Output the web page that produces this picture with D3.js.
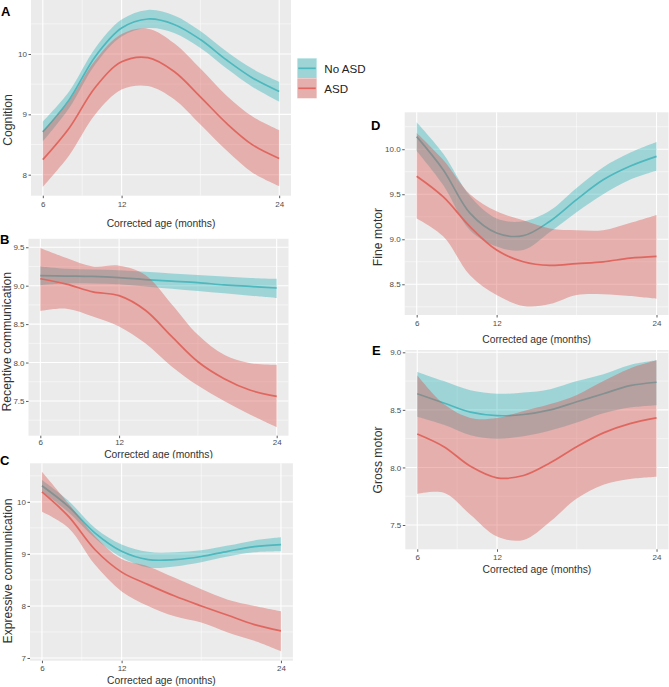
<!DOCTYPE html>
<html>
<head>
<meta charset="utf-8">
<script src="https://cdn.jsdelivr.net/npm/d3@7"></script>
<style>
  body { margin: 0; background: #fff; }
  svg { display: block; font-family: "Liberation Sans", Arial, sans-serif; }
</style>
</head>
<body>
<svg id="chart" width="669" height="687"></svg>
<script>
// ── Data ───────────────────────────────────────────────────────────
const ages   = [6, 8, 10, 12, 14, 16, 18, 20, 22, 24];
const groups = ["No ASD", "ASD"];
const xTicks = [6, 12, 24];
const xMinor = [9, 18];
const xTitle = "Corrected age (months)";

// A  Cognition
const cogNo     = [8.71, 9.24, 9.96, 10.43, 10.58, 10.49, 10.24, 9.90, 9.60, 9.38];
const cogNoLo   = [8.55, 9.10, 9.83, 10.29, 10.43, 10.35, 10.10, 9.76, 9.45, 9.21];
const cogNoHi   = [8.88, 9.38, 10.10, 10.57, 10.73, 10.64, 10.38, 10.04, 9.75, 9.54];
const cogAsd    = [8.25, 8.77, 9.45, 9.87, 9.94, 9.71, 9.29, 8.85, 8.49, 8.27];
const cogAsdLo  = [7.80, 8.32, 9.00, 9.41, 9.47, 9.25, 8.83, 8.40, 8.03, 7.81];
const cogAsdHi  = [8.72, 9.22, 9.90, 10.33, 10.42, 10.18, 9.76, 9.31, 8.96, 8.74];

// B  Receptive communication
const recNo     = [9.13, 9.125, 9.12, 9.105, 9.08, 9.06, 9.04, 9.01, 8.99, 8.97];
const recNoLo   = [9.01, 9.03, 9.03, 9.02, 8.99, 8.96, 8.93, 8.90, 8.87, 8.84];
const recNoHi   = [9.25, 9.22, 9.21, 9.20, 9.18, 9.16, 9.14, 9.12, 9.10, 9.09];
const recAsd    = [9.09, 9.02, 8.92, 8.87, 8.68, 8.34, 8.01, 7.79, 7.64, 7.56];
const recAsdLo  = [8.67, 8.70, 8.60, 8.47, 8.25, 7.95, 7.70, 7.50, 7.32, 7.16];
const recAsdHi  = [9.49, 9.36, 9.25, 9.26, 9.14, 8.76, 8.36, 8.10, 7.99, 7.97];

// C  Expressive communication
const expNo     = [10.31, 9.91, 9.40, 9.05, 8.89, 8.89, 8.95, 9.05, 9.14, 9.18];
const expNoLo   = [10.20, 9.80, 9.30, 8.93, 8.74, 8.76, 8.84, 8.95, 9.03, 9.05];
const expNoHi   = [10.42, 10.02, 9.50, 9.18, 9.04, 9.03, 9.07, 9.16, 9.26, 9.32];
const expAsd    = [10.19, 9.72, 9.08, 8.65, 8.41, 8.19, 8.00, 7.82, 7.64, 7.52];
const expAsdLo  = [9.81, 9.50, 8.79, 8.28, 8.00, 7.80, 7.68, 7.49, 7.33, 7.13];
const expAsdHi  = [10.58, 9.97, 9.34, 8.90, 8.76, 8.54, 8.32, 8.12, 8.00, 7.90];

// D  Fine motor
const fineNo    = [10.14, 9.77, 9.29, 9.07, 9.04, 9.20, 9.44, 9.66, 9.81, 9.92];
const fineNoLo  = [9.98, 9.60, 9.10, 8.92, 8.88, 9.08, 9.30, 9.50, 9.66, 9.76];
const fineNoHi  = [10.30, 9.95, 9.48, 9.23, 9.20, 9.32, 9.57, 9.80, 9.96, 10.08];
const fineAsd   = [9.70, 9.47, 9.14, 8.88, 8.75, 8.71, 8.73, 8.75, 8.79, 8.81];
const fineAsdLo = [9.23, 9.03, 8.60, 8.38, 8.26, 8.28, 8.38, 8.39, 8.37, 8.34];
const fineAsdHi = [10.18, 9.88, 9.50, 9.31, 9.21, 9.12, 9.10, 9.10, 9.18, 9.27];

// E  Gross motor
const grossNo    = [8.64, 8.56, 8.48, 8.45, 8.46, 8.50, 8.57, 8.64, 8.71, 8.74];
const grossNoLo  = [8.44, 8.37, 8.28, 8.25, 8.27, 8.32, 8.39, 8.47, 8.52, 8.54];
const grossNoHi  = [8.83, 8.75, 8.67, 8.64, 8.65, 8.68, 8.75, 8.81, 8.89, 8.93];
const grossAsd   = [8.29, 8.18, 8.01, 7.91, 7.93, 8.04, 8.18, 8.30, 8.38, 8.43];
const grossAsdLo = [7.77, 7.78, 7.59, 7.40, 7.37, 7.53, 7.73, 7.85, 7.90, 7.92];
const grossAsdHi = [8.80, 8.55, 8.43, 8.43, 8.49, 8.55, 8.63, 8.75, 8.86, 8.93];

// ── Styling ────────────────────────────────────────────────────────
const LINE = { "No ASD": "#4db8bd", "ASD": "#e0675f" };
const FILL = { "No ASD": "#00a5ad", "ASD": "#d9564d" };
const FILL_OP = { "No ASD": 0.32, "ASD": 0.4 };

// panel layout (pixels) + per-panel axis setup
const panels = [
  { tag: "A", title: "Cognition",
    series: [[cogNo, cogNoLo, cogNoHi], [cogAsd, cogAsdLo, cogAsdHi]],
    yDomain: [7.652, 10.895], yTicks: [8, 9, 10], yLabels: ["8", "9", "10"], yMinor: [8.5, 9.5, 10.5],
    left: 31, right: 291, top: 0, bottom: 195.7,
    tickBase: 11.8, titleBase: 31.3, yTitleX: 12.2, yTitleY: 120, tagX: 1, tagY: 16 },
  { tag: "B", title: "Receptive communication",
    series: [[recNo, recNoLo, recNoHi], [recAsd, recAsdLo, recAsdHi]],
    yDomain: [7.048, 9.61], yTicks: [7.5, 8, 8.5, 9, 9.5], yLabels: ["7.5", "8.0", "8.5", "9.0", "9.5"],
    yMinor: [7.25, 7.75, 8.25, 8.75, 9.25],
    left: 28.5, right: 288.5, top: 238.8, bottom: 435.7,
    tickBase: 9.8, titleBase: 22.4, yTitleX: 10.6, yTitleY: 341.7, tagX: 0, tagY: 244 },
  { tag: "C", title: "Expressive communication",
    series: [[expNo, expNoLo, expNoHi], [expAsd, expAsdLo, expAsdHi]],
    yDomain: [6.948, 10.741], yTicks: [7, 8, 9, 10], yLabels: ["7", "8", "9", "10"], yMinor: [7.5, 8.5, 9.5, 10.5],
    left: 30, right: 292.9, top: 463.3, bottom: 660.7,
    tickBase: 10.3, titleBase: 22.8, yTitleX: 12, yTitleY: 571, tagX: 0, tagY: 465 },
  { tag: "D", title: "Fine motor",
    series: [[fineNo, fineNoLo, fineNoHi], [fineAsd, fineAsdLo, fineAsdHi]],
    yDomain: [8.159, 10.41], yTicks: [8.5, 9, 9.5, 10], yLabels: ["8.5", "9.0", "9.5", "10.0"],
    yMinor: [8.25, 8.75, 9.25, 9.75, 10.25],
    left: 404.7, right: 668.5, top: 112.3, bottom: 315,
    tickBase: 11.3, titleBase: 27.5, yTitleX: 381.5, yTitleY: 237, tagX: 371, tagY: 130 },
  { tag: "E", title: "Gross motor",
    series: [[grossNo, grossNoLo, grossNoHi], [grossAsd, grossAsdLo, grossAsdHi]],
    yDomain: [7.289, 9.02], yTicks: [7.5, 8, 8.5, 9], yLabels: ["7.5", "8.0", "8.5", "9.0"],
    yMinor: [7.75, 8.25, 8.75],
    left: 405.3, right: 668.5, top: 350, bottom: 549.3,
    tickBase: 10.7, titleBase: 23.2, yTitleX: 381.5, yTitleY: 460, tagX: 372, tagY: 355 }
];

const svg = d3.select("#chart");
const TICK_FS = 8;

panels.forEach(p => {
  const x = d3.scaleLinear().domain([5.1, 24.9]).range([p.left, p.right]);
  const y = d3.scaleLinear().domain(p.yDomain).range([p.bottom, p.top]);
  const g = svg.append("g");

  // panel background + grid
  g.append("rect")
    .attr("x", p.left).attr("y", p.top)
    .attr("width", p.right - p.left).attr("height", p.bottom - p.top)
    .attr("fill", "#ebebeb");
  g.selectAll(".ymin").data(p.yMinor).enter().append("line")
    .attr("x1", p.left).attr("x2", p.right)
    .attr("y1", d => y(d)).attr("y2", d => y(d))
    .attr("stroke", "#fff").attr("stroke-width", 0.5);
  g.selectAll(".xmin").data(xMinor).enter().append("line")
    .attr("y1", p.top).attr("y2", p.bottom)
    .attr("x1", d => x(d)).attr("x2", d => x(d))
    .attr("stroke", "#fff").attr("stroke-width", 0.5);
  g.selectAll(".ymaj").data(p.yTicks).enter().append("line")
    .attr("x1", p.left).attr("x2", p.right)
    .attr("y1", d => y(d)).attr("y2", d => y(d))
    .attr("stroke", "#fff").attr("stroke-width", 1.1);
  g.selectAll(".xmaj").data(xTicks).enter().append("line")
    .attr("y1", p.top).attr("y2", p.bottom)
    .attr("x1", d => x(d)).attr("x2", d => x(d))
    .attr("stroke", "#fff").attr("stroke-width", 1.1);

  // ribbons + lines, group by group (ASD ribbon drawn over No ASD line)
  p.series.forEach(([mid, lo, hi], k) => {
    const grp = groups[k];
    const area = d3.area()
      .x((d, i) => x(ages[i]))
      .y0((d, i) => y(lo[i]))
      .y1((d, i) => y(hi[i]))
      .curve(d3.curveCatmullRom);
    const line = d3.line()
      .x((d, i) => x(ages[i]))
      .y(d => y(d))
      .curve(d3.curveCatmullRom);
    g.append("path").datum(mid).attr("d", area)
      .attr("fill", FILL[grp]).attr("fill-opacity", FILL_OP[grp]);
    g.append("path").datum(mid).attr("d", line)
      .attr("fill", "none").attr("stroke", LINE[grp]).attr("stroke-width", 1.7);
  });

  // axes
  const yAxis = g.append("g").attr("transform", `translate(${p.left},0)`)
    .call(d3.axisLeft(y).tickValues(p.yTicks).tickFormat((d, i) => p.yLabels[i])
      .tickSize(2.5).tickPadding(1.5));
  const xAxis = g.append("g").attr("transform", `translate(0,${p.bottom})`)
    .call(d3.axisBottom(x).tickValues(xTicks).tickFormat(d3.format("d"))
      .tickSize(2.5).tickPadding(p.tickBase - 2.5 - 0.71 * TICK_FS));
  [yAxis, xAxis].forEach(a => {
    a.select(".domain").remove();
    a.selectAll("line").attr("stroke", "#333").attr("stroke-width", 0.8);
    a.selectAll("text").attr("fill", "#4d4d4d").attr("font-size", TICK_FS)
      .attr("font-family", "Liberation Sans, Arial, sans-serif");
  });

  // titles
  g.append("text")
    .attr("x", (x(6) + x(24)) / 2).attr("y", p.bottom + p.titleBase)
    .attr("text-anchor", "middle").attr("font-size", 10.3).attr("fill", "#333")
    .text(xTitle);
  g.append("text")
    .attr("transform", `translate(${p.yTitleX},${p.yTitleY}) rotate(-90)`)
    .attr("text-anchor", "middle").attr("font-size", 12.2).attr("fill", "#333")
    .text(p.title);

  // white strip: panel B's x-title is clipped by panel C in the figure
  if (p.tag === "B") {
    g.append("rect").attr("x", 0).attr("y", p.bottom + p.titleBase + 0.4)
      .attr("width", 300).attr("height", 4.6).attr("fill", "#fff");
  }

  g.append("text")
    .attr("x", p.tagX).attr("y", p.tagY)
    .attr("font-size", 13).attr("font-weight", "bold").attr("fill", "#000")
    .text(p.tag);
});

// ── Legend ─────────────────────────────────────────────────────────
const legend = svg.append("g").attr("transform", "translate(297.3,58.3)");
groups.forEach((grp, i) => {
  const row = legend.append("g").attr("transform", `translate(0,${i * 20})`);
  row.append("rect").attr("width", 19.4).attr("height", 20).attr("fill", "#ebebeb")
    .attr("stroke", "#fff").attr("stroke-width", 0.6);
  row.append("rect").attr("width", 19.4).attr("height", 20)
    .attr("fill", FILL[grp]).attr("fill-opacity", FILL_OP[grp]);
  row.append("line").attr("x1", 1).attr("x2", 18.4).attr("y1", 10).attr("y2", 10)
    .attr("stroke", LINE[grp]).attr("stroke-width", 1.7);
  row.append("text").attr("x", 27).attr("y", 15)
    .attr("font-size", 11.6).attr("fill", "#222").text(grp);
});
</script>
</body>
</html>
